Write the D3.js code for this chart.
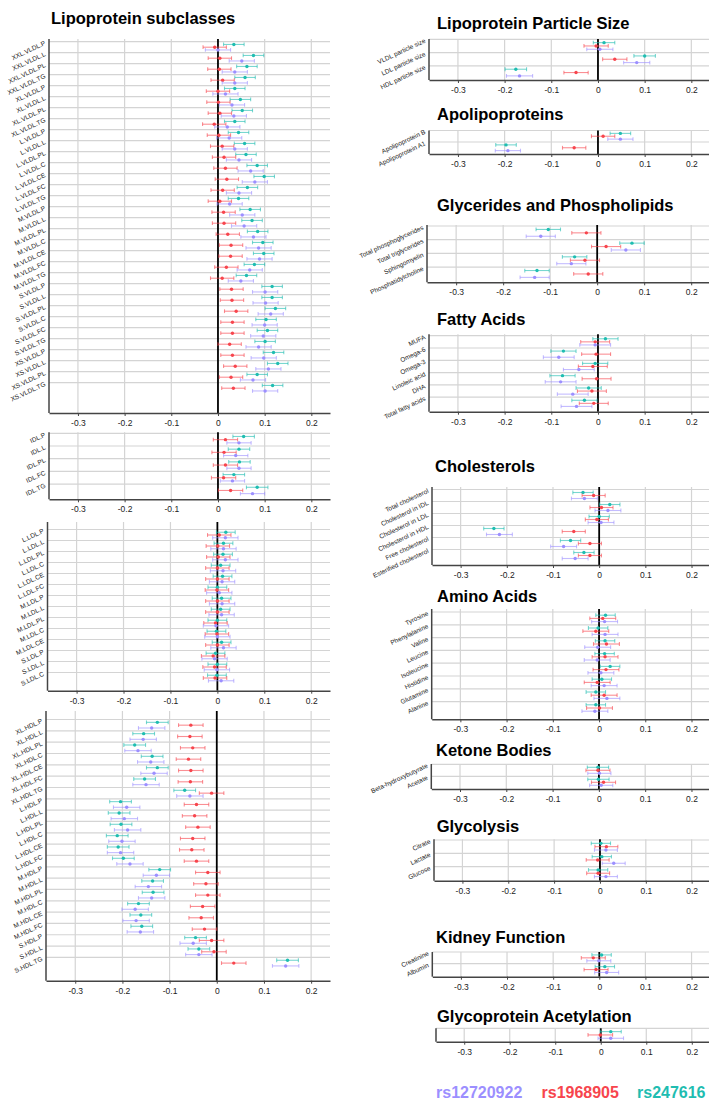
<!DOCTYPE html>
<html>
<head>
<meta charset="utf-8">
<script src="https://cdn.jsdelivr.net/npm/d3@7"></script>
<style>
  body { margin: 0; background: #fff; }
  svg { display: block; font-family: "Liberation Sans", Arial, Helvetica, sans-serif; }
  .title { font-weight: bold; font-size: 16.5px; fill: #000; }
  .ylab { font-size: 6.5px; fill: #1a1a1a; }
  .grid { stroke: #d4d4d4; stroke-width: 1.2; }
  .axis text { font-size: 8.5px; fill: #222; }
  .axis line { stroke: #444; }
</style>
</head>
<body>
<svg id="chart" width="709" height="1103"></svg>
<script>
// series order inside each row: rs247616 (top), rs1968905, rs12720922 (bottom)
const seriesNames = ["rs247616", "rs1968905", "rs12720922"];
const seriesColors = ["#1fbdb1", "#f7454d", "#9c8fff"];
const ticks = [-0.3, -0.2, -0.1, 0, 0.1, 0.2];

// ---- Lipoprotein subclasses: VLDL
const vldlLabels = ["XXL.VLDL.P","XXL.VLDL.L","XXL.VLDL.PL","XXL.VLDL.TG","XL.VLDL.P","XL.VLDL.L","XL.VLDL.PL","XL.VLDL.TG",
  "L.VLDL.P","L.VLDL.L","L.VLDL.PL","L.VLDL.C","L.VLDL.CE","L.VLDL.FC","L.VLDL.TG",
  "M.VLDL.P","M.VLDL.L","M.VLDL.PL","M.VLDL.C","M.VLDL.CE","M.VLDL.FC","M.VLDL.TG",
  "S.VLDL.P","S.VLDL.L","S.VLDL.PL","S.VLDL.C","S.VLDL.FC","S.VLDL.TG",
  "XS.VLDL.P","XS.VLDL.L","XS.VLDL.PL","XS.VLDL.TG"];
const vldlTeal = [0.034,0.076,0.062,0.058,0.036,0.048,0.052,0.036,0.044,0.057,0.060,0.084,0.099,0.063,0.044,0.069,0.073,0.085,0.096,0.098,0.078,0.061,0.116,0.116,0.123,0.103,0.106,0.101,0.119,0.128,0.084,0.117];
const vldlRed = [-0.007,0.004,0.003,0.010,0.000,0.001,0.004,-0.008,0.002,0.009,0.013,0.016,0.019,0.010,0.004,0.012,0.013,0.021,0.028,0.027,0.018,0.009,0.029,0.030,0.039,0.031,0.031,0.025,0.031,0.037,0.028,0.033];
const vldlPurple = [0.000,0.051,0.036,0.036,0.016,0.030,0.034,0.020,0.024,0.036,0.045,0.070,0.079,0.045,0.025,0.052,0.056,0.076,0.087,0.089,0.068,0.049,0.101,0.102,0.113,0.100,0.097,0.087,0.098,0.108,0.075,0.101];
const vldlHalf = [0.022, 0.025, 0.027];

// ---- IDL
const idlLabels = ["IDL.P","IDL.L","IDL.PL","IDL.FC","IDL.TG"];
const idlTeal = [0.055,0.045,0.046,0.034,0.084];
const idlRed = [0.016,0.013,0.016,0.012,0.027];
const idlPurple = [0.045,0.038,0.045,0.031,0.074];
const idlHalf = [0.023, 0.026, 0.026];

// ---- LDL
const ldlLabels = ["L.LDL.P","L.LDL.L","L.LDL.PL","L.LDL.C","L.LDL.CE","L.LDL.FC","M.LDL.P","M.LDL.L","M.LDL.PL","M.LDL.C","M.LDL.CE","S.LDL.P","S.LDL.L","S.LDL.C"];
const ldlTeal = [0.018,0.013,0.012,0.007,0.011,0.000,0.009,0.007,0.000,-0.002,0.009,-0.004,0.000,-0.001];
const ldlRed = [0.004,0.001,0.002,0.000,0.000,-0.001,0.000,0.000,-0.004,-0.001,0.000,-0.009,-0.006,-0.005];
const ldlPurple = [0.017,0.013,0.017,0.012,0.010,0.004,0.010,0.009,-0.003,0.000,0.013,-0.006,-0.001,0.008];
const ldlHalf = [0.020, 0.025, 0.027];

// ---- HDL
const hdlLabels = ["XL.HDL.P","XL.HDL.L","XL.HDL.PL","XL.HDL.C","XL.HDL.CE","XL.HDL.FC","XL.HDL.TG",
  "L.HDL.P","L.HDL.L","L.HDL.PL","L.HDL.C","L.HDL.CE","L.HDL.FC",
  "M.HDL.P","M.HDL.L","M.HDL.PL","M.HDL.C","M.HDL.CE","M.HDL.FC","S.HDL.P","S.HDL.L","S.HDL.TG"];
const hdlTeal = [-0.126,-0.155,-0.174,-0.137,-0.126,-0.153,-0.068,-0.204,-0.207,-0.203,-0.211,-0.209,-0.198,-0.121,-0.136,-0.135,-0.166,-0.161,-0.159,-0.045,-0.038,0.150];
const hdlRed = [-0.055,-0.057,-0.051,-0.060,-0.055,-0.056,-0.011,-0.043,-0.047,-0.040,-0.051,-0.053,-0.043,-0.019,-0.023,-0.019,-0.030,-0.033,-0.026,-0.011,-0.006,0.036];
const hdlPurple = [-0.138,-0.156,-0.167,-0.140,-0.133,-0.150,-0.057,-0.191,-0.196,-0.189,-0.201,-0.204,-0.184,-0.128,-0.145,-0.138,-0.173,-0.171,-0.162,-0.050,-0.038,0.146];
const hdlHalf = [0.023, 0.026, 0.028];

// ---- right column
const sizeLabels = ["VLDL particle size","LDL particle size","HDL particle size"];
const sizeTeal = [0.013,0.100,-0.176];
const sizeRed = [-0.004,0.036,-0.047];
const sizePurple = [0.004,0.083,-0.168];
const sizeHalf = [0.023, 0.026, 0.028];

const apoLabels = ["Apolipoprotein B","Apolipoprotein A1"];
const apoTeal = [0.048,-0.197];
const apoRed = [0.011,-0.051];
const apoPurple = [0.048,-0.193];
const apoHalf = [0.022, 0.025, 0.027];

const glyLabels = ["Total phosphoglycerides","Total triglycerides","Sphingomyelin","Phosphatidylcholine"];
const glyTeal = [-0.104,0.074,-0.048,-0.128];
const glyRed = [-0.023,0.019,-0.026,-0.019];
const glyPurple = [-0.120,0.061,-0.055,-0.133];
const glyHalf = [0.026, 0.031, 0.031];

const faLabels = ["MUFA","Omega-6","Omega-3","Linoleic acid","DHA","Total fatty acids"];
const faTeal = [0.016,-0.074,-0.006,-0.076,-0.020,-0.029];
const faRed = [-0.006,-0.004,-0.011,-0.003,-0.013,-0.009];
const faPurple = [-0.006,-0.084,-0.041,-0.080,-0.054,-0.046];
const faHalf = [0.027, 0.031, 0.033];

const cholLabels = ["Total cholesterol","Cholesterol in IDL","Cholesterol in LDL","Cholesterol in HDL","Free cholesterol","Esterified cholesterol"];
const cholTeal = [-0.035,0.023,0.000,-0.228,-0.062,-0.033];
const cholRed = [-0.012,0.005,-0.005,-0.055,-0.020,-0.020];
const cholPurple = [-0.032,0.019,0.004,-0.216,-0.077,-0.052];
const cholHalf = [0.022, 0.025, 0.028];

const aaLabels = ["Tyrosine","Phenylalanine","Valine","Leucine","Isoleucine","Histidine","Glutamine","Alanine"];
const aaTeal = [0.014,-0.002,0.013,0.012,0.024,0.006,-0.007,-0.007];
const aaRed = [0.008,-0.007,0.016,0.013,0.015,-0.004,0.011,0.001];
const aaPurple = [0.012,0.013,-0.003,-0.004,0.004,0.011,0.017,-0.009];
const aaHalf = [0.021, 0.028, 0.028];

const ketLabels = ["Beta-hydroxybutyrate","Acetate"];
const ketTeal = [-0.002,-0.001];
const ketRed = [-0.002,0.010];
const ketPurple = [0.001,0.005];
const ketHalf = [0.023, 0.026, 0.025];

const glycoLabels = ["Citrate","Lactate","Glucose"];
const glycoTeal = [0.002,0.004,-0.004];
const glycoRed = [0.014,-0.005,-0.004];
const glycoPurple = [0.013,0.030,0.013];
const glycoHalf = [0.021, 0.025, 0.025];

const kidLabels = ["Creatinine","Albumin"];
const kidTeal = [0.005,0.012];
const kidRed = [-0.013,-0.007];
const kidPurple = [-0.001,0.016];
const kidHalf = [0.021, 0.026, 0.026];

const glycaLabels = ["GlycA"];
const glycaTeal = [0.022];
const glycaRed = [-0.001];
const glycaPurple = [0.022];
const glycaHalf = [0.023, 0.027, 0.028];

const legendX = [436, 541.5, 637];

// layout of each panel (pixels)
const panels = [
  {title:"Lipoprotein subclasses", tx:51, ty:24, labels:vldlLabels, vals:[vldlTeal,vldlRed,vldlPurple], half:vldlHalf, left:49, right:330, top:39, y0:41.7, step:11, bottom:413},
  {labels:idlLabels, vals:[idlTeal,idlRed,idlPurple], half:idlHalf, left:49, right:330, top:432.3, y0:433.3, step:12.7, bottom:499.3},
  {labels:ldlLabels, vals:[ldlTeal,ldlRed,ldlPurple], half:ldlHalf, left:47.5, right:330, top:522, y0:529.5, step:11, bottom:690.7},
  {labels:hdlLabels, vals:[hdlTeal,hdlRed,hdlPurple], half:hdlHalf, left:46, right:330, top:711, y0:719.5, step:11.33, bottom:980.7},
  {title:"Lipoprotein Particle Size", tx:437, ty:28.5, labels:sizeLabels, vals:[sizeTeal,sizeRed,sizePurple], half:sizeHalf, left:429, right:710, top:39, y0:39.3, step:13.3, bottom:80},
  {title:"Apolipoproteins", tx:437, ty:120, labels:apoLabels, vals:[apoTeal,apoRed,apoPurple], half:apoHalf, left:429, right:710, top:130.5, y0:130.5, step:11.5, bottom:154},
  {title:"Glycerides and Phospholipids", tx:437, ty:210.5, labels:glyLabels, vals:[glyTeal,glyRed,glyPurple], half:glyHalf, left:427, right:710, top:225, y0:226, step:13.7, bottom:282.3},
  {title:"Fatty Acids", tx:437, ty:325, labels:faLabels, vals:[faTeal,faRed,faPurple], half:faHalf, left:429, right:710, top:334.3, y0:335.7, step:12.3, bottom:411.7},
  {title:"Cholesterols", tx:435, ty:471.7, labels:cholLabels, vals:[cholTeal,cholRed,cholPurple], half:cholHalf, left:432, right:710, top:487, y0:489.5, step:12, bottom:565},
  {title:"Amino Acids", tx:437, ty:602, labels:aaLabels, vals:[aaTeal,aaRed,aaPurple], half:aaHalf, left:431.7, right:710, top:609, y0:612, step:12.8, bottom:719.3},
  {title:"Ketone Bodies", tx:436, ty:756, labels:ketLabels, vals:[ketTeal,ketRed,ketPurple], half:ketHalf, left:431.3, right:710, top:764, y0:764.3, step:12, bottom:789},
  {title:"Glycolysis", tx:436.7, ty:831.7, labels:glycoLabels, vals:[glycoTeal,glycoRed,glycoPurple], half:glycoHalf, left:434, right:710, top:839.3, y0:840, step:13.3, bottom:880.7},
  {title:"Kidney Function", tx:436, ty:943.3, labels:kidLabels, vals:[kidTeal,kidRed,kidPurple], half:kidHalf, left:432.3, right:710, top:952, y0:952, step:11.7, bottom:976.7},
  {title:"Glycoprotein Acetylation", tx:437, ty:1021.7, labels:glycaLabels, vals:[glycaTeal,glycaRed,glycaPurple], half:glycaHalf, left:436, right:710, top:1028.3, y0:1028.3, step:13.3, bottom:1041.7, noLabels:true}
];

const svg = d3.select("#chart");

panels.forEach(drawPanel);
drawLegend();

function drawPanel(p) {
  const g = svg.append("g");
  const x = d3.scaleLinear().domain([-0.362, 0.24]).range([p.left, p.right]);
  const y = d3.scaleBand().domain(p.labels).range([p.y0, p.y0 + p.labels.length * p.step]).padding(0);

  if (p.title) g.append("text").attr("class", "title").attr("x", p.tx).attr("y", p.ty).text(p.title);

  // grid
  g.selectAll(".vg").data(ticks.filter(t => t !== 0)).enter().append("line")
    .attr("class", "grid").attr("x1", d => x(d)).attr("x2", d => x(d)).attr("y1", p.top).attr("y2", p.bottom);
  g.selectAll(".hg").data(p.labels).enter().append("line")
    .attr("class", "grid").attr("x1", p.left).attr("x2", p.right).attr("y1", d => y(d)).attr("y2", d => y(d));

  // zero line
  g.append("line").attr("x1", x(0)).attr("x2", x(0)).attr("y1", p.top).attr("y2", p.bottom)
    .attr("stroke", "#000").attr("stroke-width", 1.8);

  // error bars + points
  const bw = y.bandwidth();
  p.vals.forEach((arr, si) => {
    const rows = p.labels.map((lab, i) => ({lab, v: arr[i]}));
    const off = bw * (0.25 + 0.25 * si);
    const col = seriesColors[si];
    const h = p.half[si];
    const eb = g.append("g").attr("stroke", col).attr("stroke-opacity", 0.6).attr("stroke-width", 1.1);
    eb.selectAll(".h").data(rows).enter().append("line")
      .attr("x1", d => x(d.v - h)).attr("x2", d => x(d.v + h))
      .attr("y1", d => y(d.lab) + off).attr("y2", d => y(d.lab) + off);
    [-1, 1].forEach(sgn => {
      eb.selectAll(".c" + sgn).data(rows).enter().append("line")
        .attr("x1", d => x(d.v + sgn * h)).attr("x2", d => x(d.v + sgn * h))
        .attr("y1", d => y(d.lab) + off - 1.9).attr("y2", d => y(d.lab) + off + 1.9);
    });
    g.selectAll(".pt" + si).data(rows).enter().append("circle")
      .attr("cx", d => x(d.v)).attr("cy", d => y(d.lab) + off).attr("r", 1.7).attr("fill", col);
  });

  // axes
  g.append("line").attr("x1", p.left).attr("x2", p.left).attr("y1", p.top).attr("y2", p.bottom)
    .attr("stroke", "#444").attr("stroke-width", 1.5);
  const ax = g.append("g").attr("class", "axis").attr("transform", `translate(0,${p.bottom})`)
    .call(d3.axisBottom(x).tickValues(ticks).tickSize(3).tickSizeOuter(0).tickPadding(4)
      .tickFormat(d => d === 0 ? "0" : String(d)));
  ax.select(".domain").attr("stroke", "#444").attr("stroke-width", 1.5);

  if (!p.noLabels) {
    g.selectAll(".ylab").data(p.labels).enter().append("text")
      .attr("class", "ylab").attr("text-anchor", "end")
      .attr("transform", d => `translate(${p.left - 3},${y(d) + 3}) rotate(-25)`)
      .text(d => d);
  }
}

function drawLegend() {
  // legend order left to right: purple, red, teal
  const order = [2, 1, 0];
  svg.selectAll(".leg").data(order).enter().append("text")
    .attr("x", (d, i) => legendX[i]).attr("y", 1098)
    .attr("font-size", 16).attr("font-weight", "bold")
    .attr("fill", d => seriesColors[d]).text(d => seriesNames[d]);
}
</script>
</body>
</html>
